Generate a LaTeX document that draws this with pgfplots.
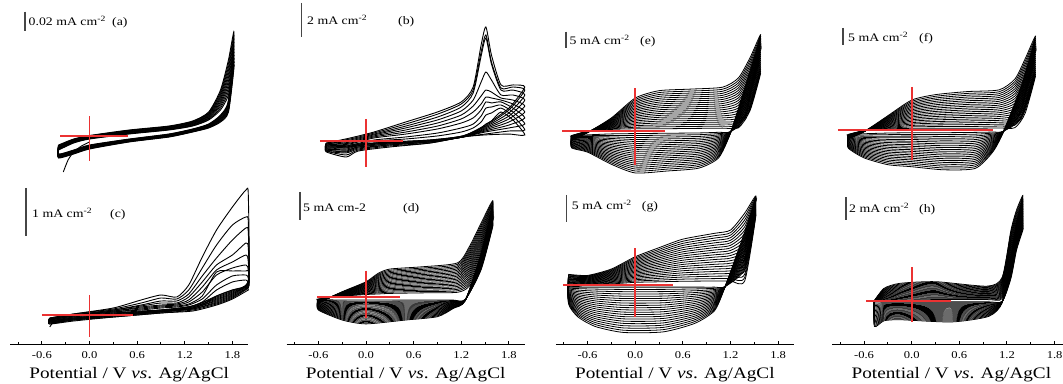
\documentclass[border=0pt]{standalone}
\usepackage{fontspec}
\setmainfont{Liberation Serif}
\newfontfamily\lblfont[FakeStretch=1.2]{Liberation Serif}
\usepackage{pgfplots}
\usepackage{pgfplotstable}
\pgfplotsset{compat=1.18}
\newcommand\tickf{\lblfont\fontsize{10.5}{11}\selectfont}
\newcommand\labf{\lblfont\fontsize{16}{17}\selectfont}
\newcommand\annf{\lblfont\fontsize{11.5}{12}\selectfont}
\definecolor{crossred}{RGB}{235,50,50}
\definecolor{bargray}{RGB}{70,70,70}

\pgfplotstableread{
E c0 c1 c2 c3 c4 c5 c6 c7 c8 c9 c10
-0.39 -0.0151 -0.0146 -0.0140 -0.0135 -0.0130 -0.0125 -0.0119 -0.0114 -0.0109 -0.0103 -0.0098
-0.20 -0.0077 -0.0073 -0.0069 -0.0064 -0.0060 -0.0056 -0.0052 -0.0048 -0.0043 -0.0039 -0.0035
0.00 -0.0035 -0.0031 -0.0028 -0.0024 -0.0020 -0.0017 -0.0013 -0.0009 -0.0005 -0.0002 0.0002
0.50 0.0018 0.0022 0.0026 0.0031 0.0035 0.0039 0.0043 0.0047 0.0052 0.0056 0.0060
1.00 0.0060 0.0064 0.0068 0.0073 0.0077 0.0081 0.0085 0.0089 0.0094 0.0098 0.0102
1.30 0.0102 0.0107 0.0113 0.0118 0.0123 0.0129 0.0134 0.0139 0.0144 0.0150 0.0155
1.50 0.0165 0.0173 0.0182 0.0190 0.0199 0.0207 0.0215 0.0224 0.0232 0.0241 0.0249
1.65 0.0271 0.0292 0.0313 0.0334 0.0355 0.0376 0.0397 0.0418 0.0439 0.0460 0.0481
1.75 0.0428 0.0465 0.0502 0.0539 0.0576 0.0613 0.0649 0.0686 0.0723 0.0760 0.0797
1.82 0.0723 0.0760 0.0797 0.0834 0.0871 0.0908 0.0944 0.0981 0.1018 0.1055 0.1092
1.75 0.0249 0.0262 0.0274 0.0287 0.0300 0.0313 0.0325 0.0338 0.0351 0.0363 0.0376
1.65 0.0144 0.0151 0.0159 0.0166 0.0174 0.0181 0.0188 0.0196 0.0203 0.0211 0.0218
1.50 0.0081 0.0085 0.0089 0.0094 0.0098 0.0102 0.0106 0.0110 0.0115 0.0119 0.0123
1.30 0.0039 0.0042 0.0045 0.0049 0.0052 0.0055 0.0058 0.0061 0.0065 0.0068 0.0071
1.00 -0.0014 -0.0011 -0.0008 -0.0004 -0.0001 0.0002 0.0005 0.0008 0.0012 0.0015 0.0018
0.50 -0.0066 -0.0063 -0.0060 -0.0057 -0.0054 -0.0051 -0.0047 -0.0044 -0.0041 -0.0038 -0.0035
0.00 -0.0140 -0.0136 -0.0132 -0.0127 -0.0123 -0.0119 -0.0115 -0.0111 -0.0106 -0.0102 -0.0098
-0.20 -0.0193 -0.0189 -0.0185 -0.0180 -0.0176 -0.0172 -0.0168 -0.0164 -0.0159 -0.0155 -0.0151
-0.39 -0.0235 -0.0231 -0.0227 -0.0222 -0.0218 -0.0214 -0.0210 -0.0206 -0.0201 -0.0197 -0.0193
-0.39 -0.0151 -0.0146 -0.0140 -0.0135 -0.0130 -0.0125 -0.0119 -0.0114 -0.0109 -0.0103 -0.0098
}\tabA

\pgfplotstableread{
E c0 c1 c2 c3 c4 c5 c6 c7 c8 c9
-0.50 -0.14 -0.14 -0.19 -0.19 -0.25 -0.25 -0.31 -0.31 -0.37 -0.37
-0.20 0.16 0.10 0.04 -0.02 -0.08 -0.14 -0.19 -0.25 -0.31 -0.37
0.10 0.51 0.45 0.39 0.34 0.28 0.22 0.16 0.04 -0.02 -0.14
0.50 1.10 0.98 0.86 0.75 0.63 0.51 0.39 0.22 0.10 -0.08
0.90 1.69 1.56 1.39 1.22 1.04 0.86 0.69 0.45 0.28 0.04
1.20 2.28 2.16 1.98 1.75 1.51 1.28 1.04 0.75 0.51 0.22
1.35 3.16 2.98 2.81 2.39 2.04 1.69 1.34 0.98 0.75 0.45
1.45 5.63 5.22 4.98 3.45 2.63 2.16 1.81 1.45 1.10 0.75
1.51 6.69 6.22 6.04 4.04 2.98 2.57 2.28 1.92 1.51 0.98
1.58 5.04 4.63 4.51 3.57 2.86 2.51 2.22 1.98 1.63 1.16
1.70 3.28 3.10 2.98 2.69 2.51 2.39 2.28 2.10 1.92 1.69
1.85 3.28 3.16 2.98 2.69 2.39 2.16 1.92 1.69 1.45 1.22
2.00 3.16 2.98 2.69 2.39 2.04 1.69 1.34 0.98 0.63 0.34
1.80 1.92 1.81 1.63 1.45 1.28 1.10 0.92 0.75 0.57 0.39
1.50 0.92 0.86 0.81 0.75 0.69 0.63 0.57 0.51 0.39 0.34
1.22 0.28 0.28 0.28 0.22 0.22 0.22 0.22 0.22 0.22 0.22
0.80 0.04 0.04 -0.02 -0.02 -0.02 -0.08 -0.08 -0.08 -0.14 -0.14
0.30 -0.08 -0.08 -0.14 -0.14 -0.19 -0.19 -0.25 -0.25 -0.31 -0.37
-0.10 -0.19 -0.25 -0.25 -0.31 -0.37 -0.37 -0.43 -0.49 -0.55 -0.61
-0.25 -0.31 -0.37 -0.43 -0.49 -0.55 -0.61 -0.66 -0.72 -0.84 -0.96
-0.50 -0.37 -0.43 -0.43 -0.49 -0.49 -0.55 -0.55 -0.61 -0.61 -0.66
-0.50 -0.14 -0.14 -0.19 -0.19 -0.25 -0.25 -0.31 -0.31 -0.37 -0.37
}\tabB

\pgfplotstableread{
E c0 c1 c2 c3 c4 c5 c6 c7 c8 c9
-0.50 -0.063 -0.063 -0.083 -0.083 -0.083 -0.104 -0.104 -0.104 -0.125 -0.125
-0.20 0.021 0.021 0 0 0 -0.021 -0.021 -0.021 -0.042 -0.042
0.30 0.146 0.125 0.104 0.104 0.083 0.083 0.063 0.063 0.042 0.042
0.65 0.313 0.25 0.208 0.188 0.167 0.146 0.125 0.104 0.083 0.063
0.90 0.417 0.354 0.292 0.25 0.208 0.188 0.167 0.146 0.104 0.083
1.10 0.375 0.333 0.292 0.25 0.229 0.208 0.188 0.167 0.125 0.104
1.25 0.625 0.521 0.438 0.375 0.313 0.271 0.229 0.208 0.167 0.125
1.42 1.208 0.979 0.813 0.688 0.583 0.479 0.396 0.333 0.271 0.208
1.60 1.771 1.458 1.188 1.042 0.938 0.833 0.896 0.625 0.521 0.396
1.80 2.25 1.875 1.563 1.25 1.104 0.979 0.917 0.813 0.688 0.521
1.97 2.604 2.042 1.813 1.5 1.25 1.042 0.917 0.833 0.729 0.583
2.00 2.5 1.938 1.729 1.396 1.104 0.938 0.917 0.771 0.667 0.521
2.00 0.729 0.708 0.688 0.667 0.646 0.625 0.604 0.583 0.563 0.521
1.80 0.521 0.5 0.479 0.458 0.438 0.417 0.396 0.375 0.354 0.333
1.60 0.396 0.375 0.354 0.333 0.313 0.292 0.271 0.25 0.229 0.208
1.30 0.188 0.188 0.167 0.167 0.146 0.146 0.125 0.125 0.104 0.083
0.90 0.104 0.104 0.083 0.083 0.083 0.063 0.063 0.063 0.042 0.042
0.30 0.021 0.021 0 0 0 -0.021 -0.021 -0.021 -0.042 -0.042
-0.20 -0.063 -0.063 -0.063 -0.083 -0.083 -0.083 -0.104 -0.104 -0.104 -0.125
-0.50 -0.125 -0.125 -0.146 -0.146 -0.146 -0.167 -0.167 -0.167 -0.188 -0.188
-0.50 -0.063 -0.063 -0.083 -0.083 -0.083 -0.104 -0.104 -0.104 -0.125 -0.125
}\tabC

\pgfplotstableread{
E c0 c1 c2 c3 c4 c5 c6 c7 c8 c9 c10 c11 c12 c13 c14 c15 c16 c17 c18 c19 c20
-0.60 -0.3 -0.34 -0.37 -0.41 -0.44 -0.48 -0.51 -0.55 -0.58 -0.62 -0.65 -0.69 -0.72 -0.76 -0.79 -0.83 -0.86 -0.9 -0.93 -0.97 -1.0
-0.30 0.2 0.24 0.28 0.32 0.36 0.4 0.44 0.48 0.52 0.56 0.6 0.64 0.68 0.72 0.76 0.8 0.84 0.88 0.92 0.96 1.0
0.00 0.5 0.62 0.73 0.85 0.96 1.08 1.19 1.31 1.42 1.54 1.65 1.77 1.88 2.0 2.11 2.23 2.34 2.46 2.57 2.69 2.8
0.15 0.6 0.79 0.97 1.16 1.34 1.53 1.71 1.9 2.08 2.27 2.45 2.64 2.82 3.01 3.19 3.38 3.56 3.75 3.93 4.12 4.3
0.30 0.7 0.92 1.14 1.36 1.58 1.8 2.02 2.24 2.46 2.68 2.9 3.12 3.34 3.56 3.78 4.0 4.22 4.44 4.66 4.88 5.1
0.70 0.8 1.04 1.27 1.51 1.74 1.98 2.21 2.45 2.68 2.92 3.15 3.39 3.62 3.86 4.09 4.33 4.56 4.8 5.03 5.27 5.5
1.15 0.9 1.17 1.43 1.7 1.96 2.23 2.49 2.76 3.02 3.29 3.55 3.82 4.08 4.35 4.61 4.88 5.14 5.41 5.67 5.94 6.2
1.30 2.0 2.36 2.71 3.07 3.42 3.78 4.13 4.49 4.84 5.2 5.55 5.91 6.26 6.62 6.97 7.33 7.68 8.04 8.39 8.75 9.1
1.45 6.0 6.37 6.74 7.11 7.48 7.85 8.22 8.59 8.96 9.33 9.7 10.07 10.44 10.81 11.18 11.55 11.92 12.29 12.66 13.03 13.4
1.60 13 13.22 13.44 13.66 13.88 14.1 14.32 14.54 14.76 14.98 15.2 15.42 15.64 15.86 16.08 16.3 16.52 16.74 16.96 17.18 17.4
1.45 5 5.15 5.3 5.45 5.6 5.75 5.9 6.05 6.2 6.35 6.5 6.65 6.8 6.95 7.1 7.25 7.4 7.55 7.7 7.85 8
1.25 -0.4 -0.41 -0.42 -0.43 -0.44 -0.45 -0.46 -0.47 -0.48 -0.49 -0.5 -0.51 -0.52 -0.53 -0.54 -0.55 -0.56 -0.57 -0.58 -0.59 -0.6
1.10 -0.5 -0.58 -0.65 -0.73 -0.8 -0.88 -0.95 -1.03 -1.1 -1.18 -1.25 -1.33 -1.4 -1.48 -1.55 -1.63 -1.7 -1.78 -1.85 -1.93 -2.0
0.90 -0.5 -0.65 -0.8 -0.95 -1.1 -1.25 -1.4 -1.55 -1.7 -1.85 -2.0 -2.15 -2.3 -2.45 -2.6 -2.75 -2.9 -3.05 -3.2 -3.35 -3.5
0.50 -0.5 -0.68 -0.86 -1.04 -1.22 -1.4 -1.58 -1.76 -1.94 -2.12 -2.3 -2.48 -2.66 -2.84 -3.02 -3.2 -3.38 -3.56 -3.74 -3.92 -4.1
0.00 -0.5 -0.72 -0.93 -1.15 -1.36 -1.58 -1.79 -2.01 -2.22 -2.44 -2.65 -2.87 -3.08 -3.3 -3.51 -3.73 -3.94 -4.16 -4.37 -4.59 -4.8
-0.30 -0.5 -0.68 -0.86 -1.04 -1.22 -1.4 -1.58 -1.76 -1.94 -2.12 -2.3 -2.48 -2.66 -2.84 -3.02 -3.2 -3.38 -3.56 -3.74 -3.92 -4.1
-0.60 -0.4 -0.5 -0.59 -0.69 -0.78 -0.88 -0.97 -1.07 -1.16 -1.26 -1.35 -1.45 -1.54 -1.64 -1.73 -1.83 -1.92 -2.02 -2.11 -2.21 -2.3
-0.60 -0.3 -0.34 -0.37 -0.41 -0.44 -0.48 -0.51 -0.55 -0.58 -0.62 -0.65 -0.69 -0.72 -0.76 -0.79 -0.83 -0.86 -0.9 -0.93 -0.97 -1.0
}\tabD

\pgfplotstableread{
E c0 c1 c2 c3 c4 c5 c6 c7 c8 c9 c10 c11 c12 c13 c14 c15 c16 c17 c18 c19 c20
-0.80 -1.5 -1.575 -1.65 -1.725 -1.8 -1.875 -1.95 -2.025 -2.1 -2.175 -2.25 -2.325 -2.4 -2.475 -2.55 -2.625 -2.7 -2.775 -2.85 -2.925 -3.0
-0.60 -0.2 -0.22 -0.24 -0.26 -0.28 -0.3 -0.32 -0.34 -0.36 -0.38 -0.4 -0.42 -0.44 -0.46 -0.48 -0.5 -0.52 -0.54 -0.56 -0.58 -0.6
-0.30 0.4 0.58 0.76 0.94 1.12 1.3 1.48 1.66 1.84 2.02 2.2 2.38 2.56 2.74 2.92 3.1 3.28 3.46 3.64 3.82 4.0
0.00 0.6 1.08 1.56 2.04 2.52 3.0 3.48 3.96 4.44 4.92 5.4 5.88 6.36 6.84 7.32 7.8 8.28 8.76 9.24 9.72 10.2
0.30 0.6 1.2 1.79 2.39 2.98 3.58 4.17 4.77 5.36 5.96 6.55 7.15 7.74 8.34 8.93 9.53 10.12 10.72 11.31 11.91 12.5
0.70 0.7 1.32 1.93 2.55 3.16 3.78 4.39 5.01 5.62 6.24 6.85 7.47 8.08 8.7 9.31 9.93 10.54 11.16 11.77 12.39 13.0
1.10 0.8 1.44 2.08 2.72 3.36 4.0 4.64 5.28 5.92 6.56 7.2 7.84 8.48 9.12 9.76 10.4 11.04 11.68 12.32 12.96 13.6
1.30 0.9 1.68 2.46 3.24 4.02 4.8 5.58 6.36 7.14 7.92 8.7 9.48 10.26 11.04 11.82 12.6 13.38 14.16 14.94 15.72 16.5
1.45 6.5 7.33 8.15 8.98 9.8 10.63 11.45 12.28 13.1 13.93 14.75 15.58 16.4 17.23 18.05 18.88 19.7 20.53 21.35 22.18 23.0
1.58 18 18.6 19.2 19.8 20.4 21 21.6 22.2 22.8 23.4 24 24.6 25.2 25.8 26.4 27 27.6 28.2 28.8 29.4 30
1.40 4 4.55 5.1 5.65 6.2 6.75 7.3 7.85 8.4 8.95 9.5 10.05 10.6 11.15 11.7 12.25 12.8 13.35 13.9 14.45 15
1.20 -0.3 -0.32 -0.34 -0.36 -0.38 -0.4 -0.42 -0.44 -0.46 -0.48 -0.5 -0.52 -0.54 -0.56 -0.58 -0.6 -0.62 -0.64 -0.66 -0.68 -0.7
1.05 -0.5 -0.9 -1.3 -1.7 -2.1 -2.5 -2.9 -3.3 -3.7 -4.1 -4.5 -4.9 -5.3 -5.7 -6.1 -6.5 -6.9 -7.3 -7.7 -8.1 -8.5
0.80 -0.7 -1.25 -1.8 -2.35 -2.9 -3.45 -4.0 -4.55 -5.1 -5.65 -6.2 -6.75 -7.3 -7.85 -8.4 -8.95 -9.5 -10.05 -10.6 -11.15 -11.7
0.40 -0.8 -1.39 -1.98 -2.57 -3.16 -3.75 -4.34 -4.93 -5.52 -6.11 -6.7 -7.29 -7.88 -8.47 -9.06 -9.65 -10.24 -10.83 -11.42 -12.01 -12.6
0.00 -0.9 -1.52 -2.13 -2.75 -3.36 -3.98 -4.59 -5.21 -5.82 -6.44 -7.05 -7.67 -8.28 -8.9 -9.51 -10.13 -10.74 -11.36 -11.97 -12.59 -13.2
-0.30 -1.0 -1.48 -1.95 -2.43 -2.9 -3.38 -3.85 -4.33 -4.8 -5.28 -5.75 -6.23 -6.7 -7.18 -7.65 -8.13 -8.6 -9.08 -9.55 -10.03 -10.5
-0.60 -1.3 -1.57 -1.84 -2.11 -2.38 -2.65 -2.92 -3.19 -3.46 -3.73 -4.0 -4.27 -4.54 -4.81 -5.08 -5.35 -5.62 -5.89 -6.16 -6.43 -6.7
-0.80 -1.5 -1.7 -1.89 -2.09 -2.28 -2.48 -2.67 -2.87 -3.06 -3.26 -3.45 -3.65 -3.84 -4.04 -4.23 -4.43 -4.62 -4.82 -5.01 -5.21 -5.4
-0.80 -1.5 -1.575 -1.65 -1.725 -1.8 -1.875 -1.95 -2.025 -2.1 -2.175 -2.25 -2.325 -2.4 -2.475 -2.55 -2.625 -2.7 -2.775 -2.85 -2.925 -3.0
}\tabE

\pgfplotstableread{
E c0 c1 c2 c3 c4 c5 c6 c7 c8 c9 c10 c11 c12 c13 c14 c15 c16 c17 c18 c19 c20
-0.80 -1.3 -1.37 -1.43 -1.5 -1.56 -1.63 -1.69 -1.76 -1.82 -1.89 -1.95 -2.02 -2.08 -2.15 -2.21 -2.28 -2.34 -2.41 -2.47 -2.54 -2.6
-0.60 -0.2 -0.22 -0.23 -0.25 -0.26 -0.28 -0.29 -0.31 -0.32 -0.34 -0.35 -0.37 -0.38 -0.4 -0.41 -0.43 -0.44 -0.46 -0.47 -0.49 -0.5
-0.30 0.3 0.5 0.69 0.89 1.08 1.28 1.47 1.67 1.86 2.06 2.25 2.45 2.64 2.84 3.03 3.23 3.42 3.62 3.81 4.01 4.2
0.00 0.5 0.92 1.33 1.75 2.16 2.58 2.99 3.41 3.82 4.24 4.65 5.07 5.48 5.9 6.31 6.73 7.14 7.56 7.97 8.39 8.8
0.30 0.5 1.0 1.49 1.99 2.48 2.98 3.47 3.97 4.46 4.96 5.45 5.95 6.44 6.94 7.43 7.93 8.42 8.92 9.41 9.91 10.4
0.70 0.5 1.04 1.58 2.12 2.66 3.2 3.74 4.28 4.82 5.36 5.9 6.44 6.98 7.52 8.06 8.6 9.14 9.68 10.22 10.76 11.3
1.10 0.6 1.16 1.72 2.28 2.84 3.4 3.96 4.52 5.08 5.64 6.2 6.76 7.32 7.88 8.44 9.0 9.56 10.12 10.68 11.24 11.8
1.30 0.7 1.42 2.13 2.85 3.56 4.28 4.99 5.71 6.42 7.14 7.85 8.57 9.28 10.0 10.71 11.43 12.14 12.86 13.57 14.29 15.0
1.43 5 5.8 6.6 7.4 8.2 9 9.8 10.6 11.4 12.2 13 13.8 14.6 15.4 16.2 17 17.8 18.6 19.4 20.2 21
1.56 16 16.58 17.16 17.74 18.32 18.9 19.48 20.06 20.64 21.22 21.8 22.38 22.96 23.54 24.12 24.7 25.28 25.86 26.44 27.02 27.6
1.38 3.5 3.98 4.45 4.93 5.4 5.88 6.35 6.83 7.3 7.78 8.25 8.73 9.2 9.68 10.15 10.63 11.1 11.58 12.05 12.53 13
1.15 -0.4 -0.42 -0.44 -0.46 -0.48 -0.5 -0.52 -0.54 -0.56 -0.58 -0.6 -0.62 -0.64 -0.66 -0.68 -0.7 -0.72 -0.74 -0.76 -0.78 -0.8
1.02 -0.6 -0.9 -1.19 -1.49 -1.78 -2.08 -2.37 -2.67 -2.96 -3.26 -3.55 -3.85 -4.14 -4.44 -4.73 -5.03 -5.32 -5.62 -5.91 -6.21 -6.5
0.80 -0.7 -1.23 -1.76 -2.29 -2.82 -3.35 -3.88 -4.41 -4.94 -5.47 -6.0 -6.53 -7.06 -7.59 -8.12 -8.65 -9.18 -9.71 -10.24 -10.77 -11.3
0.40 -0.8 -1.35 -1.89 -2.44 -2.98 -3.53 -4.07 -4.62 -5.16 -5.71 -6.25 -6.8 -7.34 -7.89 -8.43 -8.98 -9.52 -10.07 -10.61 -11.16 -11.7
0.00 -0.8 -1.3 -1.8 -2.3 -2.8 -3.3 -3.8 -4.3 -4.8 -5.3 -5.8 -6.3 -6.8 -7.3 -7.8 -8.3 -8.8 -9.3 -9.8 -10.3 -10.8
-0.30 -0.9 -1.37 -1.83 -2.3 -2.76 -3.23 -3.69 -4.16 -4.62 -5.09 -5.55 -6.02 -6.48 -6.95 -7.41 -7.88 -8.34 -8.81 -9.27 -9.74 -10.2
-0.60 -1.1 -1.46 -1.81 -2.17 -2.52 -2.88 -3.23 -3.59 -3.94 -4.3 -4.65 -5.01 -5.36 -5.72 -6.07 -6.43 -6.78 -7.14 -7.49 -7.85 -8.2
-0.80 -1.3 -1.5 -1.7 -1.9 -2.1 -2.3 -2.5 -2.7 -2.9 -3.1 -3.3 -3.5 -3.7 -3.9 -4.1 -4.3 -4.5 -4.7 -4.9 -5.1 -5.3
-0.80 -1.3 -1.37 -1.43 -1.5 -1.56 -1.63 -1.69 -1.76 -1.82 -1.89 -1.95 -2.02 -2.08 -2.15 -2.21 -2.28 -2.34 -2.41 -2.47 -2.54 -2.6
}\tabF

\pgfplotstableread{
E c0 c1 c2 c3 c4 c5 c6 c7 c8 c9 c10 c11 c12 c13 c14 c15 c16 c17 c18 c19 c20
-0.84 -0.4 -0.28 -0.16 -0.04 0.08 0.2 0.32 0.44 0.56 0.68 0.8 0.92 1.04 1.16 1.28 1.4 1.52 1.64 1.76 1.88 2.0
-0.60 0 0.09 0.18 0.27 0.36 0.45 0.54 0.63 0.72 0.81 0.9 0.99 1.08 1.17 1.26 1.35 1.44 1.53 1.62 1.71 1.8
-0.30 0.2 0.34 0.48 0.62 0.76 0.9 1.04 1.18 1.32 1.46 1.6 1.74 1.88 2.02 2.16 2.3 2.44 2.58 2.72 2.86 3.0
0.00 0.5 0.74 0.98 1.22 1.46 1.7 1.94 2.18 2.42 2.66 2.9 3.14 3.38 3.62 3.86 4.1 4.34 4.58 4.82 5.06 5.3
0.30 0.6 0.92 1.24 1.56 1.88 2.2 2.52 2.84 3.16 3.48 3.8 4.12 4.44 4.76 5.08 5.4 5.72 6.04 6.36 6.68 7.0
0.60 0.7 1.1 1.49 1.89 2.28 2.68 3.07 3.47 3.86 4.26 4.65 5.05 5.44 5.84 6.23 6.63 7.02 7.42 7.81 8.21 8.6
1.00 0.75 1.2 1.65 2.09 2.54 2.99 3.44 3.88 4.33 4.78 5.23 5.67 6.12 6.57 7.02 7.46 7.91 8.36 8.81 9.25 9.7
1.20 0.75 1.23 1.71 2.18 2.66 3.14 3.62 4.09 4.57 5.05 5.53 6.0 6.48 6.96 7.44 7.91 8.39 8.87 9.35 9.82 10.3
1.38 0.8 1.44 2.07 2.71 3.34 3.98 4.61 5.25 5.88 6.52 7.15 7.79 8.42 9.06 9.69 10.33 10.96 11.6 12.23 12.87 13.5
1.52 13.1 13.28 13.46 13.64 13.82 14.0 14.18 14.36 14.54 14.72 14.9 15.08 15.26 15.44 15.62 15.8 15.98 16.16 16.34 16.52 16.7
1.38 3 3.35 3.7 4.05 4.4 4.75 5.1 5.45 5.8 6.15 6.5 6.85 7.2 7.55 7.9 8.25 8.6 8.95 9.3 9.65 10
1.13 -0.3 -0.31 -0.31 -0.32 -0.32 -0.33 -0.33 -0.34 -0.34 -0.35 -0.35 -0.36 -0.36 -0.37 -0.37 -0.38 -0.38 -0.39 -0.39 -0.4 -0.4
1.00 -0.4 -0.62 -0.84 -1.06 -1.28 -1.5 -1.72 -1.94 -2.16 -2.38 -2.6 -2.82 -3.04 -3.26 -3.48 -3.7 -3.92 -4.14 -4.36 -4.58 -4.8
0.75 -0.4 -0.74 -1.08 -1.42 -1.76 -2.1 -2.44 -2.78 -3.12 -3.46 -3.8 -4.14 -4.48 -4.82 -5.16 -5.5 -5.84 -6.18 -6.52 -6.86 -7.2
0.35 -0.4 -0.82 -1.24 -1.66 -2.08 -2.5 -2.92 -3.34 -3.76 -4.18 -4.6 -5.02 -5.44 -5.86 -6.28 -6.7 -7.12 -7.54 -7.96 -8.38 -8.8
-0.15 -0.4 -0.83 -1.25 -1.68 -2.1 -2.53 -2.95 -3.38 -3.8 -4.23 -4.65 -5.08 -5.5 -5.93 -6.35 -6.78 -7.2 -7.63 -8.05 -8.48 -8.9
-0.50 -0.4 -0.77 -1.14 -1.51 -1.88 -2.25 -2.62 -2.99 -3.36 -3.73 -4.1 -4.47 -4.84 -5.21 -5.58 -5.95 -6.32 -6.69 -7.06 -7.43 -7.8
-0.72 -0.4 -0.68 -0.96 -1.24 -1.52 -1.8 -2.08 -2.36 -2.64 -2.92 -3.2 -3.48 -3.76 -4.04 -4.32 -4.6 -4.88 -5.16 -5.44 -5.72 -6.0
-0.84 -0.4 -0.56 -0.71 -0.87 -1.02 -1.18 -1.33 -1.49 -1.64 -1.8 -1.95 -2.11 -2.26 -2.42 -2.57 -2.73 -2.88 -3.04 -3.19 -3.35 -3.5
-0.84 -0.4 -0.28 -0.16 -0.04 0.08 0.2 0.32 0.44 0.56 0.68 0.8 0.92 1.04 1.16 1.28 1.4 1.52 1.64 1.76 1.88 2.0
}\tabG

\pgfplotstableread{
E c0 c1 c2 c3 c4 c5 c6 c7 c8 c9 c10 c11 c12 c13 c14 c15 c16 c17 c18 c19 c20
-0.47 -0.1 -0.095 -0.09 -0.085 -0.08 -0.075 -0.07 -0.065 -0.06 -0.055 -0.05 -0.045 -0.04 -0.035 -0.03 -0.025 -0.02 -0.015 -0.01 -0.005 0
-0.35 0 0.055 0.11 0.165 0.22 0.275 0.33 0.385 0.44 0.495 0.55 0.605 0.66 0.715 0.77 0.825 0.88 0.935 0.99 1.045 1.1
-0.15 0.05 0.125 0.2 0.275 0.35 0.425 0.5 0.575 0.65 0.725 0.8 0.875 0.95 1.025 1.1 1.175 1.25 1.325 1.4 1.475 1.55
0.30 0.1 0.18 0.26 0.34 0.42 0.5 0.58 0.66 0.74 0.82 0.9 0.98 1.06 1.14 1.22 1.3 1.38 1.46 1.54 1.62 1.7
0.95 0.1 0.16 0.22 0.28 0.34 0.4 0.46 0.52 0.58 0.64 0.7 0.76 0.82 0.88 0.94 1.0 1.06 1.12 1.18 1.24 1.3
1.14 0.2 0.3 0.39 0.49 0.58 0.68 0.77 0.87 0.96 1.06 1.15 1.25 1.34 1.44 1.53 1.63 1.72 1.82 1.91 2.01 2.1
1.25 3.0 3.17 3.33 3.5 3.66 3.83 3.99 4.16 4.32 4.49 4.65 4.82 4.98 5.15 5.31 5.48 5.64 5.81 5.97 6.14 6.3
1.32 5.0 5.16 5.31 5.47 5.62 5.78 5.93 6.09 6.24 6.4 6.55 6.71 6.86 7.02 7.17 7.33 7.48 7.64 7.79 7.95 8.1
1.40 6.3 6.46 6.61 6.77 6.92 7.08 7.23 7.39 7.54 7.7 7.85 8.01 8.16 8.32 8.47 8.63 8.78 8.94 9.09 9.25 9.4
1.32 4.5 4.63 4.75 4.88 5.0 5.13 5.25 5.38 5.5 5.63 5.75 5.88 6.0 6.13 6.25 6.38 6.5 6.63 6.75 6.88 7.0
1.25 2.0 2.1 2.2 2.3 2.4 2.5 2.6 2.7 2.8 2.9 3.0 3.1 3.2 3.3 3.4 3.5 3.6 3.7 3.8 3.9 4.0
1.14 -0.05 -0.055 -0.06 -0.065 -0.07 -0.075 -0.08 -0.085 -0.09 -0.095 -0.1 -0.105 -0.11 -0.115 -0.12 -0.125 -0.13 -0.135 -0.14 -0.145 -0.15
0.97 -0.1 -0.165 -0.23 -0.295 -0.36 -0.425 -0.49 -0.555 -0.62 -0.685 -0.75 -0.815 -0.88 -0.945 -1.01 -1.075 -1.14 -1.205 -1.27 -1.335 -1.4
0.50 -0.1 -0.19 -0.28 -0.37 -0.46 -0.55 -0.64 -0.73 -0.82 -0.91 -1.0 -1.09 -1.18 -1.27 -1.36 -1.45 -1.54 -1.63 -1.72 -1.81 -1.9
-0.15 -0.1 -0.18 -0.26 -0.34 -0.42 -0.5 -0.58 -0.66 -0.74 -0.82 -0.9 -0.98 -1.06 -1.14 -1.22 -1.3 -1.38 -1.46 -1.54 -1.62 -1.7
-0.35 -0.1 -0.185 -0.27 -0.355 -0.44 -0.525 -0.61 -0.695 -0.78 -0.865 -0.95 -1.035 -1.12 -1.205 -1.29 -1.375 -1.46 -1.545 -1.63 -1.715 -1.8
-0.47 -0.1 -0.21 -0.32 -0.43 -0.54 -0.65 -0.76 -0.87 -0.98 -1.09 -1.2 -1.31 -1.42 -1.53 -1.64 -1.75 -1.86 -1.97 -2.08 -2.19 -2.3
-0.47 -0.1 -0.095 -0.09 -0.085 -0.08 -0.075 -0.07 -0.065 -0.06 -0.055 -0.05 -0.045 -0.04 -0.035 -0.03 -0.025 -0.02 -0.015 -0.01 -0.005 0
}\tabH

\pgfplotsset{
  cvbase/.style={scale only axis, width=238.2pt, xmin=-1, xmax=2, clip=false, anchor=south west},
  cvtop/.style={cvbase, height=185pt, hide axis},
  cvbot/.style={cvbase, height=159.3pt,
    axis x line=bottom, axis y line=none,
    x axis line style={-, line width=1.2pt},
    xtick={-0.6,0,0.6,1.2,1.8},
    xticklabels={-0.6,0.0,0.6,1.2,1.8},
    minor xtick={-0.9,-0.3,0.3,0.9,1.5},
    tick align=inside,
    major tick length=3.5pt, minor tick length=2pt,
    tick style={black, line width=1pt},
    xticklabel style={font=\tickf, anchor=base, yshift=-14pt},
    xlabel={Potential / V \textit{vs}. Ag/AgCl},
    xlabel style={font=\labf, at={(axis description cs:0.5,0)}, anchor=base, yshift=-33.7pt}},
  cv/.style={black, line width=0.9pt, smooth, tension=0.4},
  cvd/.style={black, line width=0.8pt, smooth, tension=0.4},
  cvh/.style={black, line width=0.75pt, smooth, tension=0.4},
  crs/.style={color=crossred, line width=1.7pt},
}

\begin{document}
\begin{tikzpicture}
% (a)
\begin{axis}[cvtop, at={(10.1pt,198pt)}, ymin=-0.05189, ymax=0.14284]
\pgfplotsinvokeforeach{0,...,10}{\addplot[cv] table[x=E,y=c#1]{\tabA};}
\addplot[cv] coordinates {(-0.33,-0.0382) (-0.27,-0.0256) (-0.2,-0.0172) (-0.1,-0.0108) (0.0,-0.0066)};
\addplot[crs] coordinates {(-0.37,0) (0.48,0)};
\addplot[crs] coordinates {(0,0.0207) (0,-0.0266)};
\end{axis}
% (b)
\begin{axis}[cvtop, at={(286.6pt,198pt)}, ymin=-2.6059, ymax=8.2765]
\pgfplotsinvokeforeach{0,...,9}{\addplot[cv] table[x=E,y=c#1]{\tabB};}
\addplot[crs] coordinates {(-0.58,0) (0.47,0)};
\addplot[crs] coordinates {(0,1.28) (0,-1.55)};
\end{axis}
% (e)
\begin{axis}[cvtop, at={(555.8pt,198pt)}, ymin=-16.969, ymax=40.844]
\pgfplotsinvokeforeach{0,...,20}{\addplot[cvd] table[x=E,y=c#1]{\tabE};}
\addplot[crs] coordinates {(-0.92,0) (0.38,0)};
\addplot[crs] coordinates {(0,13.3) (0,-10.7)};
\end{axis}
% (f)
\begin{axis}[cvtop, at={(832.3pt,198pt)}, ymin=-16.176, ymax=38.235]
\pgfplotsinvokeforeach{0,...,20}{\addplot[cvd] table[x=E,y=c#1]{\tabF};}
\addplot[crs] coordinates {(-0.93,0) (1.02,0)};
\addplot[crs] coordinates {(0,12.7) (0,-8.8)};
\end{axis}
% (c)
\begin{axis}[cvbot, at={(10.1pt,38.7pt)}, ymin=-0.6104, ymax=2.7083]
\pgfplotsinvokeforeach{0,...,9}{\addplot[cv] table[x=E,y=c#1]{\tabC};}
\addplot[cv] coordinates {(-0.42,-0.042) (-0.5,-0.25)};
\addplot[crs] coordinates {(-0.6,0) (0.55,0)};
\addplot[crs] coordinates {(0,0.417) (0,-0.452)};
\end{axis}
% (d)
\begin{axis}[cvbot, at={(286.6pt,38.7pt)}, ymin=-8.484, ymax=20.271]
\pgfplotsinvokeforeach{0,...,20}{\addplot[cvd] table[x=E,y=c#1]{\tabD};}
\addplot[crs] coordinates {(-0.62,0) (0.43,0)};
\addplot[crs] coordinates {(0,4.8) (0,-3.74)};
\end{axis}
% (g)
\begin{axis}[cvbot, at={(555.8pt,38.7pt)}, ymin=-11.126, ymax=18.762]
\pgfplotsinvokeforeach{0,...,20}{\addplot[cvd] table[x=E,y=c#1]{\tabG};}
\addplot[crs] coordinates {(-0.91,0) (0.48,0)};
\addplot[crs] coordinates {(0,6.89) (0,-5.95)};
\end{axis}
% (h)
\begin{axis}[cvbot, at={(832.3pt,38.7pt)}, ymin=-3.893, ymax=10.330]
\pgfplotsinvokeforeach{0,...,20}{\addplot[cvh] table[x=E,y=c#1]{\tabH};}
\addplot[crs] coordinates {(-0.57,0) (0.5,0)};
\addplot[crs] coordinates {(0,2.98) (0,-1.875)};
\end{axis}

% scale bars and panel labels
\begin{scope}[every node/.style={anchor=base west, inner sep=0pt, font=\annf}]
\draw[bargray, line width=1.3pt] (25pt,371.3pt) -- (25pt,352.3pt);
\node at (28.5pt,357.5pt) {0.02 mA cm\textsuperscript{-2}};
\node at (112pt,357.5pt) {(a)};
\draw[bargray, line width=1.3pt] (301.7pt,380pt) -- (301.7pt,346pt);
\node at (307pt,358pt) {2 mA cm\textsuperscript{-2}};
\node at (398pt,358pt) {(b)};
\draw[bargray, line width=1.3pt] (566pt,351.3pt) -- (566pt,335.3pt);
\node at (569.5pt,338pt) {5 mA cm\textsuperscript{-2}};
\node at (640pt,338pt) {(e)};
\draw[bargray, line width=1.3pt] (843pt,355pt) -- (843pt,338pt);
\node at (848pt,341.5pt) {5 mA cm\textsuperscript{-2}};
\node at (919pt,341.5pt) {(f)};
\draw[bargray, line width=1.3pt] (26pt,195pt) -- (26pt,146.7pt);
\node at (32pt,165pt) {1 mA cm\textsuperscript{-2}};
\node at (110pt,165pt) {(c)};
\draw[bargray, line width=1.3pt] (300pt,191pt) -- (300pt,163.3pt);
\node at (303pt,171.5pt) {5 mA cm-2};
\node at (403pt,171.5pt) {(d)};
\draw[bargray, line width=1.3pt] (566.7pt,188pt) -- (566.7pt,161.3pt);
\node at (571.7pt,173pt) {5 mA cm\textsuperscript{-2}};
\node at (641.7pt,173pt) {(g)};
\draw[bargray, line width=1.3pt] (846pt,185.7pt) -- (846pt,163.3pt);
\node at (849pt,170pt) {2 mA cm\textsuperscript{-2}};
\node at (919pt,170pt) {(h)};
\end{scope}

\pgfresetboundingbox
\useasboundingbox (0pt,0pt) rectangle (1063pt,383pt);
\end{tikzpicture}
\end{document}
